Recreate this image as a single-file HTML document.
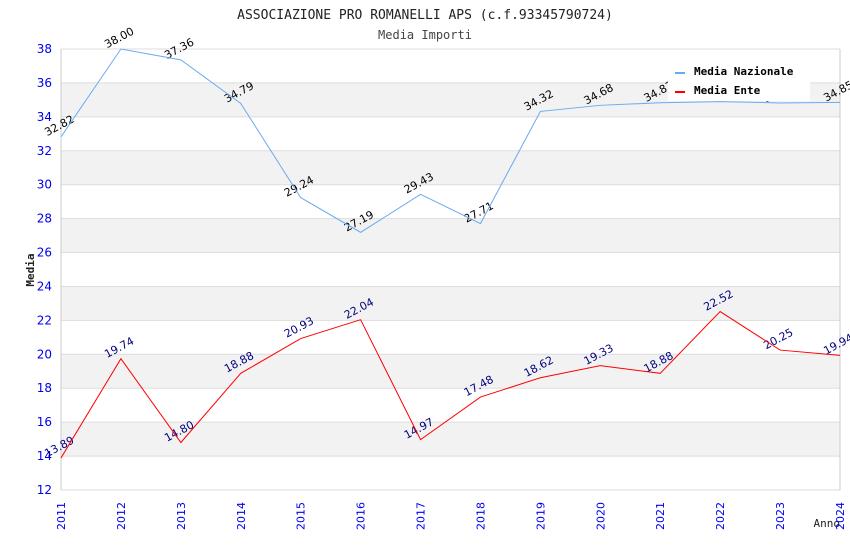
<!DOCTYPE html>
<html><head><meta charset="utf-8"><style>
body{margin:0;background:#fff}
svg{display:block;font-family:"DejaVu Sans Mono","Liberation Mono",monospace}
.s{font-family:"DejaVu Sans","Liberation Sans",sans-serif}
</style></head><body>
<svg id="c" width="850" height="550">
<text x="425" y="19" text-anchor="middle" font-size="13" fill="#222">ASSOCIAZIONE PRO ROMANELLI APS (c.f.93345790724)</text>
<text x="425" y="39" text-anchor="middle" font-size="12" fill="#444">Media Importi</text>
<text transform="translate(34,270) rotate(-90)" text-anchor="middle" font-size="11" font-weight="bold" fill="#222">Media</text>
<text x="840" y="527" text-anchor="end" font-size="11" fill="#222">Anno</text>
<g id="bands"></g><g id="grid"></g><g id="axes"></g><g id="labels"></g><g id="legend">
<rect x="668" y="58" width="142" height="43" fill="#fff"/>
<rect x="675" y="72" width="10" height="2" fill="#6aaaf0"/>
<text x="694" y="75" font-size="11" font-weight="bold" fill="#000">Media Nazionale</text>
<rect x="675" y="91" width="10" height="2" fill="#ff0000"/>
<text x="694" y="94" font-size="11" font-weight="bold" fill="#000">Media Ente</text>
</g><g id="lines"></g>
</svg>
<script>
const years=[2011,2012,2013,2014,2015,2016,2017,2018,2019,2020,2021,2022,2023,2024];
const nazionale=[32.82,38.00,37.36,34.79,29.24,27.19,29.43,27.71,34.32,34.68,34.83,34.90,34.82,34.85];
const ente=[13.89,19.74,14.80,18.88,20.93,22.04,14.97,17.48,18.62,19.33,18.88,22.52,20.25,19.94];
const yTicks=[12,14,16,18,20,22,24,26,28,30,32,34,36,38];
const NS='http://www.w3.org/2000/svg';
const L=61,R=840,T=49,B=490,yMin=12,yMax=38;
function xs(i){return L+(R-L)*i/(years.length-1);}
function ys(v){return B-(v-yMin)/(yMax-yMin)*(B-T);}
function mk(p,tag,at){const e=document.createElementNS(NS,tag);for(const k in at)e.setAttribute(k,at[k]);document.getElementById(p).appendChild(e);return e;}
yTicks.forEach((t,i)=>{
 if(t===14||t===18||t===22||t===26||t===30||t===34){
  const r=mk('bands','rect',{x:L,y:ys(t+2),width:R-L,height:ys(t)-ys(t+2),fill:'#f2f2f2'});
  
  
 }
 const g=mk('grid','line',{x1:L,x2:R,y1:ys(t),y2:ys(t),stroke:'#ddd','stroke-width':1});
 
 
 const tx=mk('axes','text',{x:52,y:ys(t)+4,'text-anchor':'end','font-size':12,fill:'#0000ee',class:'s'});
 tx.textContent=t;
 
 
});
[L,R].forEach(x=>{const a=mk('axes','line',{x1:x,x2:x,y1:T,y2:B,stroke:'#ccc'});
 
 });
years.forEach((y,i)=>{
 const tx=mk('axes','text',{transform:`translate(${xs(i)+4},530) rotate(-90)`,'font-size':11,fill:'#0000ee',class:'s'});
 tx.textContent=y;
 
 
});
function series(vals,color,lc,name){
 const p=mk('lines','polyline',{points:vals.map((v,i)=>xs(i)+','+ys(v)).join(' '),fill:'none',stroke:color,'stroke-width':1});
 
 
 vals.forEach((v,i)=>{
  const t=mk('labels','text',{transform:`translate(${xs(i)},${ys(v)-8}) rotate(-28)`,'text-anchor':'middle','font-size':11,fill:lc,class:'s'});
  t.textContent=v.toFixed(2);
  
  
 });
}
series(nazionale,'#6aaaf0','#000','nazionale');
series(ente,'#ff0000','#000080','ente');
</script>
</body></html>
